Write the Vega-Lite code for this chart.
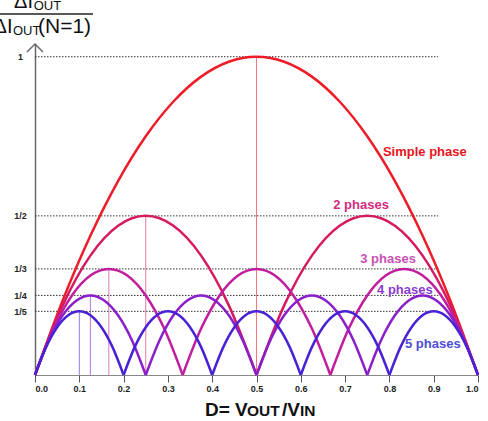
{
  "$schema": "https://vega.github.io/schema/vega-lite/v6.json",
  "width": 443,
  "height": 331,
  "autosize": {"type": "none"},
  "padding": {"left": 35, "top": 44, "right": 10, "bottom": 46},
  "background": "white",
  "config": {"view": {"stroke": null}, "font": "Liberation Sans"},
  "datasets": {
    "levels": [
      {"r": 1, "from": 0, "to": 0.91},
      {"r": 0.5, "from": 0, "to": 0.91},
      {"r": 0.33333, "from": 0, "to": 0.91},
      {"r": 0.25, "from": 0, "to": 0.91},
      {"r": 0.2, "from": 0, "to": 0.91}
    ],
    "peaks": [
      {"n": "1", "d": 0.5, "lo": 0, "r": 1},
      {"n": "2", "d": 0.25, "lo": 0, "r": 0.5},
      {"n": "3", "d": 0.16667, "lo": 0, "r": 0.33333},
      {"n": "4", "d": 0.125, "lo": 0, "r": 0.25},
      {"n": "5", "d": 0.1, "lo": 0, "r": 0.2}
    ],
    "labels": [
      {"n": "Simple phase", "d": 0.88, "r": 0.70},
      {"n": "2 phases", "d": 0.736, "r": 0.535},
      {"n": "3 phases", "d": 0.797, "r": 0.366},
      {"n": "4 phases", "d": 0.835, "r": 0.268},
      {"n": "5 phases", "d": 0.898, "r": 0.098}
    ],
    "fractionBar": [{"from": -0.079, "to": 0.131, "r": 1.134}],
    "curves": [
      {"n": "1", "a": 0, "d": 0, "r": 0},
      {"n": "1", "a": 0, "d": 0.0625, "r": 0.234375},
      {"n": "1", "a": 0, "d": 0.125, "r": 0.4375},
      {"n": "1", "a": 0, "d": 0.1875, "r": 0.609375},
      {"n": "1", "a": 0, "d": 0.25, "r": 0.75},
      {"n": "1", "a": 0, "d": 0.3125, "r": 0.859375},
      {"n": "1", "a": 0, "d": 0.375, "r": 0.9375},
      {"n": "1", "a": 0, "d": 0.4375, "r": 0.984375},
      {"n": "1", "a": 0, "d": 0.5, "r": 1},
      {"n": "1", "a": 0, "d": 0.5625, "r": 0.984375},
      {"n": "1", "a": 0, "d": 0.625, "r": 0.9375},
      {"n": "1", "a": 0, "d": 0.6875, "r": 0.859375},
      {"n": "1", "a": 0, "d": 0.75, "r": 0.75},
      {"n": "1", "a": 0, "d": 0.8125, "r": 0.609375},
      {"n": "1", "a": 0, "d": 0.875, "r": 0.4375},
      {"n": "1", "a": 0, "d": 0.9375, "r": 0.234375},
      {"n": "1", "a": 0, "d": 1, "r": 0},
      {"n": "2", "a": 0, "d": 0, "r": 0},
      {"n": "2", "a": 0, "d": 0.0625, "r": 0.21875},
      {"n": "2", "a": 0, "d": 0.125, "r": 0.375},
      {"n": "2", "a": 0, "d": 0.1875, "r": 0.46875},
      {"n": "2", "a": 0, "d": 0.25, "r": 0.5},
      {"n": "2", "a": 0, "d": 0.3125, "r": 0.46875},
      {"n": "2", "a": 0, "d": 0.375, "r": 0.375},
      {"n": "2", "a": 0, "d": 0.4375, "r": 0.21875},
      {"n": "2", "a": 0, "d": 0.5, "r": 0},
      {"n": "2", "a": 1, "d": 0.5, "r": 0},
      {"n": "2", "a": 1, "d": 0.5625, "r": 0.21875},
      {"n": "2", "a": 1, "d": 0.625, "r": 0.375},
      {"n": "2", "a": 1, "d": 0.6875, "r": 0.46875},
      {"n": "2", "a": 1, "d": 0.75, "r": 0.5},
      {"n": "2", "a": 1, "d": 0.8125, "r": 0.46875},
      {"n": "2", "a": 1, "d": 0.875, "r": 0.375},
      {"n": "2", "a": 1, "d": 0.9375, "r": 0.21875},
      {"n": "2", "a": 1, "d": 1, "r": 0},
      {"n": "3", "a": 0, "d": 0, "r": 0},
      {"n": "3", "a": 0, "d": 0.04167, "r": 0.14583},
      {"n": "3", "a": 0, "d": 0.08333, "r": 0.25},
      {"n": "3", "a": 0, "d": 0.125, "r": 0.3125},
      {"n": "3", "a": 0, "d": 0.16667, "r": 0.33333},
      {"n": "3", "a": 0, "d": 0.20833, "r": 0.3125},
      {"n": "3", "a": 0, "d": 0.25, "r": 0.25},
      {"n": "3", "a": 0, "d": 0.29167, "r": 0.14583},
      {"n": "3", "a": 0, "d": 0.33333, "r": 0},
      {"n": "3", "a": 1, "d": 0.33333, "r": 0},
      {"n": "3", "a": 1, "d": 0.375, "r": 0.14583},
      {"n": "3", "a": 1, "d": 0.41667, "r": 0.25},
      {"n": "3", "a": 1, "d": 0.45833, "r": 0.3125},
      {"n": "3", "a": 1, "d": 0.5, "r": 0.33333},
      {"n": "3", "a": 1, "d": 0.54167, "r": 0.3125},
      {"n": "3", "a": 1, "d": 0.58333, "r": 0.25},
      {"n": "3", "a": 1, "d": 0.625, "r": 0.14583},
      {"n": "3", "a": 1, "d": 0.66667, "r": 0},
      {"n": "3", "a": 2, "d": 0.66667, "r": 0},
      {"n": "3", "a": 2, "d": 0.70833, "r": 0.14583},
      {"n": "3", "a": 2, "d": 0.75, "r": 0.25},
      {"n": "3", "a": 2, "d": 0.79167, "r": 0.3125},
      {"n": "3", "a": 2, "d": 0.83333, "r": 0.33333},
      {"n": "3", "a": 2, "d": 0.875, "r": 0.3125},
      {"n": "3", "a": 2, "d": 0.91667, "r": 0.25},
      {"n": "3", "a": 2, "d": 0.95833, "r": 0.14583},
      {"n": "3", "a": 2, "d": 1, "r": 0},
      {"n": "4", "a": 0, "d": 0, "r": 0},
      {"n": "4", "a": 0, "d": 0.03125, "r": 0.10938},
      {"n": "4", "a": 0, "d": 0.0625, "r": 0.1875},
      {"n": "4", "a": 0, "d": 0.09375, "r": 0.23438},
      {"n": "4", "a": 0, "d": 0.125, "r": 0.25},
      {"n": "4", "a": 0, "d": 0.15625, "r": 0.23438},
      {"n": "4", "a": 0, "d": 0.1875, "r": 0.1875},
      {"n": "4", "a": 0, "d": 0.21875, "r": 0.10938},
      {"n": "4", "a": 0, "d": 0.25, "r": 0},
      {"n": "4", "a": 1, "d": 0.25, "r": 0},
      {"n": "4", "a": 1, "d": 0.28125, "r": 0.10938},
      {"n": "4", "a": 1, "d": 0.3125, "r": 0.1875},
      {"n": "4", "a": 1, "d": 0.34375, "r": 0.23438},
      {"n": "4", "a": 1, "d": 0.375, "r": 0.25},
      {"n": "4", "a": 1, "d": 0.40625, "r": 0.23438},
      {"n": "4", "a": 1, "d": 0.4375, "r": 0.1875},
      {"n": "4", "a": 1, "d": 0.46875, "r": 0.10938},
      {"n": "4", "a": 1, "d": 0.5, "r": 0},
      {"n": "4", "a": 2, "d": 0.5, "r": 0},
      {"n": "4", "a": 2, "d": 0.53125, "r": 0.10938},
      {"n": "4", "a": 2, "d": 0.5625, "r": 0.1875},
      {"n": "4", "a": 2, "d": 0.59375, "r": 0.23438},
      {"n": "4", "a": 2, "d": 0.625, "r": 0.25},
      {"n": "4", "a": 2, "d": 0.65625, "r": 0.23438},
      {"n": "4", "a": 2, "d": 0.6875, "r": 0.1875},
      {"n": "4", "a": 2, "d": 0.71875, "r": 0.10938},
      {"n": "4", "a": 2, "d": 0.75, "r": 0},
      {"n": "4", "a": 3, "d": 0.75, "r": 0},
      {"n": "4", "a": 3, "d": 0.78125, "r": 0.10938},
      {"n": "4", "a": 3, "d": 0.8125, "r": 0.1875},
      {"n": "4", "a": 3, "d": 0.84375, "r": 0.23438},
      {"n": "4", "a": 3, "d": 0.875, "r": 0.25},
      {"n": "4", "a": 3, "d": 0.90625, "r": 0.23438},
      {"n": "4", "a": 3, "d": 0.9375, "r": 0.1875},
      {"n": "4", "a": 3, "d": 0.96875, "r": 0.10938},
      {"n": "4", "a": 3, "d": 1, "r": 0},
      {"n": "5", "a": 0, "d": 0, "r": 0},
      {"n": "5", "a": 0, "d": 0.025, "r": 0.0875},
      {"n": "5", "a": 0, "d": 0.05, "r": 0.15},
      {"n": "5", "a": 0, "d": 0.075, "r": 0.1875},
      {"n": "5", "a": 0, "d": 0.1, "r": 0.2},
      {"n": "5", "a": 0, "d": 0.125, "r": 0.1875},
      {"n": "5", "a": 0, "d": 0.15, "r": 0.15},
      {"n": "5", "a": 0, "d": 0.175, "r": 0.0875},
      {"n": "5", "a": 0, "d": 0.2, "r": 0},
      {"n": "5", "a": 1, "d": 0.2, "r": 0},
      {"n": "5", "a": 1, "d": 0.225, "r": 0.0875},
      {"n": "5", "a": 1, "d": 0.25, "r": 0.15},
      {"n": "5", "a": 1, "d": 0.275, "r": 0.1875},
      {"n": "5", "a": 1, "d": 0.3, "r": 0.2},
      {"n": "5", "a": 1, "d": 0.325, "r": 0.1875},
      {"n": "5", "a": 1, "d": 0.35, "r": 0.15},
      {"n": "5", "a": 1, "d": 0.375, "r": 0.0875},
      {"n": "5", "a": 1, "d": 0.4, "r": 0},
      {"n": "5", "a": 2, "d": 0.4, "r": 0},
      {"n": "5", "a": 2, "d": 0.425, "r": 0.0875},
      {"n": "5", "a": 2, "d": 0.45, "r": 0.15},
      {"n": "5", "a": 2, "d": 0.475, "r": 0.1875},
      {"n": "5", "a": 2, "d": 0.5, "r": 0.2},
      {"n": "5", "a": 2, "d": 0.525, "r": 0.1875},
      {"n": "5", "a": 2, "d": 0.55, "r": 0.15},
      {"n": "5", "a": 2, "d": 0.575, "r": 0.0875},
      {"n": "5", "a": 2, "d": 0.6, "r": 0},
      {"n": "5", "a": 3, "d": 0.6, "r": 0},
      {"n": "5", "a": 3, "d": 0.625, "r": 0.0875},
      {"n": "5", "a": 3, "d": 0.65, "r": 0.15},
      {"n": "5", "a": 3, "d": 0.675, "r": 0.1875},
      {"n": "5", "a": 3, "d": 0.7, "r": 0.2},
      {"n": "5", "a": 3, "d": 0.725, "r": 0.1875},
      {"n": "5", "a": 3, "d": 0.75, "r": 0.15},
      {"n": "5", "a": 3, "d": 0.775, "r": 0.0875},
      {"n": "5", "a": 3, "d": 0.8, "r": 0},
      {"n": "5", "a": 4, "d": 0.8, "r": 0},
      {"n": "5", "a": 4, "d": 0.825, "r": 0.0875},
      {"n": "5", "a": 4, "d": 0.85, "r": 0.15},
      {"n": "5", "a": 4, "d": 0.875, "r": 0.1875},
      {"n": "5", "a": 4, "d": 0.9, "r": 0.2},
      {"n": "5", "a": 4, "d": 0.925, "r": 0.1875},
      {"n": "5", "a": 4, "d": 0.95, "r": 0.15},
      {"n": "5", "a": 4, "d": 0.975, "r": 0.0875},
      {"n": "5", "a": 4, "d": 1, "r": 0}
    ]
  },
  "layer": [
    {
      "data": {"name": "levels"},
      "mark": {"type": "rule", "color": "#333333", "strokeWidth": 1, "strokeDash": [1.5, 1.5]},
      "encoding": {
        "y": {"field": "r", "type": "quantitative"},
        "x": {"field": "from", "type": "quantitative"},
        "x2": {"field": "to"}
      }
    },
    {
      "data": {"name": "peaks"},
      "mark": {"type": "rule", "strokeWidth": 1, "opacity": 0.6},
      "encoding": {
        "x": {"field": "d", "type": "quantitative"},
        "y": {"field": "lo", "type": "quantitative"},
        "y2": {"field": "r"},
        "color": {"field": "n", "type": "nominal", "legend": null}
      }
    },
    {
      "data": {"name": "curves"},
      "mark": {"type": "line", "interpolate": "monotone", "strokeWidth": 2.5},
      "encoding": {
        "x": {"field": "d", "type": "quantitative", "scale": {"domain": [0, 1], "nice": false},
          "axis": {"values": [0, 0.1, 0.2, 0.3, 0.4, 0.5, 0.6, 0.7, 0.8, 0.9, 1], "format": ".1f",
            "grid": false, "title": null, "tickSize": 7, "tickColor": "#555555",
            "labelFont": "Liberation Sans", "labelFontWeight": "bold", "labelFontSize": 9,
            "labelColor": "#222222", "labelPadding": 2, "domainColor": "#888888", "domainWidth": 1}},
        "y": {"field": "r", "type": "quantitative", "scale": {"domain": [0, 1.04], "nice": false},
          "axis": {"values": [0.2, 0.25, 0.33333, 0.5, 1],
            "labelExpr": "datum.value == 1 ? '1' : '1/' + round(1 / datum.value)",
            "ticks": false, "tickSize": 0, "grid": false, "title": null,
            "labelFont": "Liberation Sans", "labelFontWeight": "bold", "labelFontSize": 9,
            "labelColor": "#222222", "labelAlign": "center", "labelPadding": 15,
            "domainColor": "#6a6a6a", "domainWidth": 1.5}},
        "color": {"field": "n", "type": "nominal", "legend": null,
          "scale": {"domain": ["1", "2", "3", "4", "5", "Simple phase", "2 phases", "3 phases", "4 phases", "5 phases"],
            "range": ["#ee1c28", "#d61a60", "#c01e9e", "#8a1ec8", "#4a22d6",
                      "#e8141e", "#d42a80", "#c850b4", "#8a3ccf", "#4e4ed8"]}},
        "detail": {"field": "a", "type": "nominal"}
      }
    },
    {
      "data": {"name": "labels"},
      "mark": {"type": "text", "font": "Liberation Sans", "fontWeight": "bold", "fontSize": 13,
        "align": "center", "baseline": "middle"},
      "encoding": {
        "x": {"field": "d", "type": "quantitative"},
        "y": {"field": "r", "type": "quantitative"},
        "text": {"field": "n"},
        "color": {"field": "n", "type": "nominal", "legend": null}
      }
    },
    {
      "data": {"name": "fractionBar"},
      "mark": {"type": "rule", "color": "#222222", "strokeWidth": 1.5},
      "encoding": {
        "x": {"field": "from", "type": "quantitative"},
        "x2": {"field": "to"},
        "y": {"field": "r", "type": "quantitative"}
      }
    },
    {
      "data": {"values": [{"k": 0}]},
      "mark": {"type": "point", "shape": "M -1 1 L 0 0 L 1 1", "size": 256, "filled": false,
        "stroke": "#6a6a6a", "strokeWidth": 1.5, "opacity": 1},
      "encoding": {"x": {"datum": 0}, "y": {"datum": 1.04}}
    },
    {
      "data": {"values": [{"k": 0}]},
      "mark": {"type": "text", "text": "ΔI", "font": "Liberation Sans", "fontSize": 20, "align": "right",
        "baseline": "alphabetic", "color": "#111111"},
      "encoding": {"x": {"datum": -0.0045}, "y": {"datum": 1.153}}
    },
    {
      "data": {"values": [{"k": 0}]},
      "mark": {"type": "text", "text": "OUT", "font": "Liberation Sans", "fontSize": 13, "align": "left",
        "baseline": "alphabetic", "color": "#111111"},
      "encoding": {"x": {"datum": -0.003}, "y": {"datum": 1.147}}
    },
    {
      "data": {"values": [{"k": 0}]},
      "mark": {"type": "text", "text": "ΔI", "font": "Liberation Sans", "fontSize": 20, "align": "right",
        "baseline": "alphabetic", "color": "#111111"},
      "encoding": {"x": {"datum": -0.0508}, "y": {"datum": 1.0745}}
    },
    {
      "data": {"values": [{"k": 0}]},
      "mark": {"type": "text", "text": "OUT", "font": "Liberation Sans", "fontSize": 13, "align": "left",
        "baseline": "alphabetic", "color": "#111111"},
      "encoding": {"x": {"datum": -0.0497}, "y": {"datum": 1.067}}
    },
    {
      "data": {"values": [{"k": 0}]},
      "mark": {"type": "text", "text": "(N=1)", "font": "Liberation Sans", "fontSize": 21, "align": "left",
        "baseline": "alphabetic", "color": "#111111"},
      "encoding": {"x": {"datum": 0.0068}, "y": {"datum": 1.0745}}
    },
    {
      "data": {"values": [{"k": 0}]},
      "mark": {"type": "text", "text": "D= V", "font": "Liberation Sans", "fontWeight": "bold", "fontSize": 19,
        "align": "left", "baseline": "alphabetic", "color": "#111111"},
      "encoding": {"x": {"datum": 0.3837}, "y": {"datum": -0.1288}}
    },
    {
      "data": {"values": [{"k": 0}]},
      "mark": {"type": "text", "text": "OUT", "font": "Liberation Sans", "fontWeight": "bold", "fontSize": 15.5,
        "align": "left", "baseline": "alphabetic", "color": "#111111"},
      "encoding": {"x": {"datum": 0.4786}, "y": {"datum": -0.1288}}
    },
    {
      "data": {"values": [{"k": 0}]},
      "mark": {"type": "text", "text": "/V", "font": "Liberation Sans", "fontWeight": "bold", "fontSize": 19,
        "align": "left", "baseline": "alphabetic", "color": "#111111"},
      "encoding": {"x": {"datum": 0.5576}, "y": {"datum": -0.1288}}
    },
    {
      "data": {"values": [{"k": 0}]},
      "mark": {"type": "text", "text": "IN", "font": "Liberation Sans", "fontWeight": "bold", "fontSize": 15.5,
        "align": "left", "baseline": "alphabetic", "color": "#111111"},
      "encoding": {"x": {"datum": 0.5982}, "y": {"datum": -0.1288}}
    }
  ]
}
